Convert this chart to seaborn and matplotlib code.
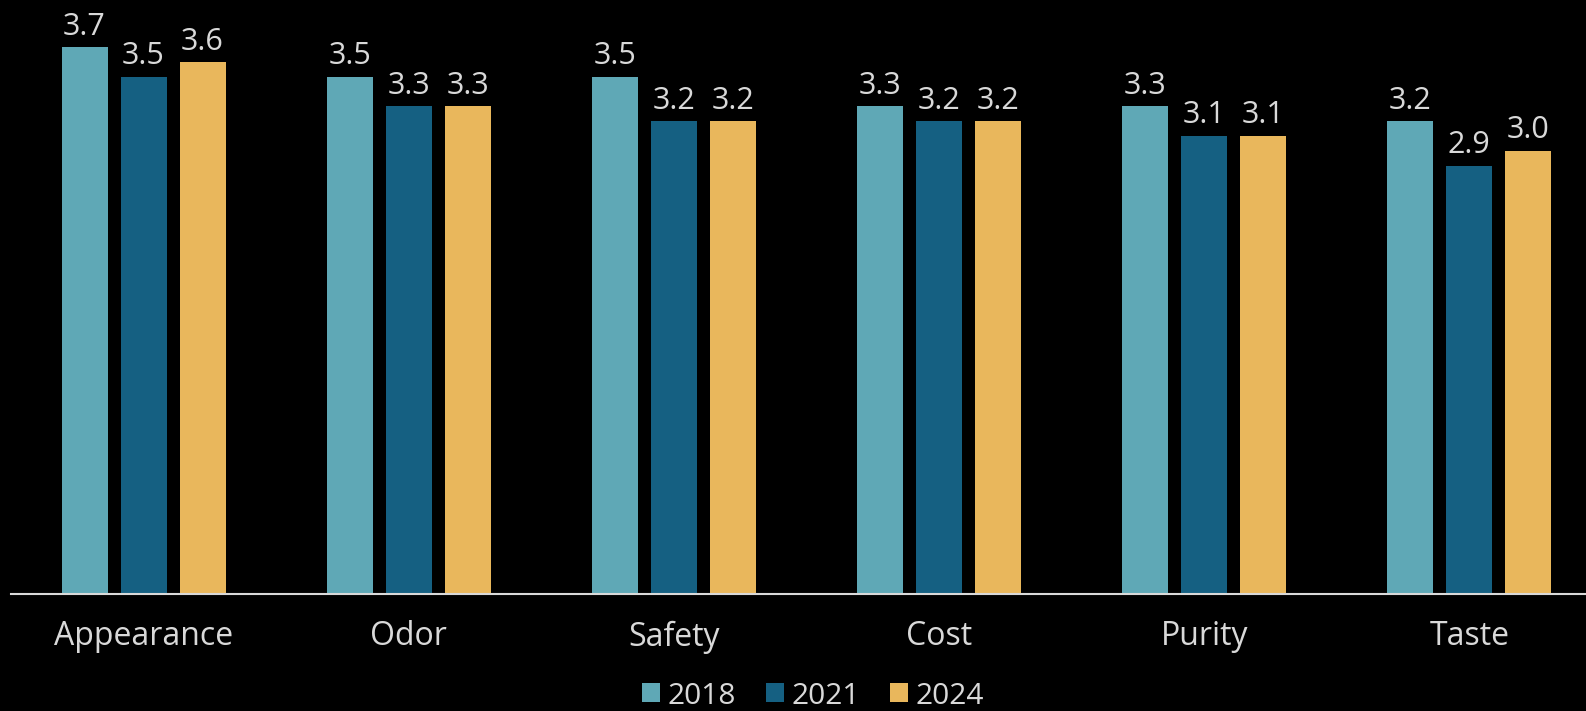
import matplotlib
matplotlib.use("Agg")
import matplotlib.pyplot as plt
import seaborn as sns
import pandas as pd

categories = ["Appearance", "Odor", "Safety", "Cost", "Purity", "Taste"]
years = ["2018", "2021", "2024"]
vals_2018 = [3.7, 3.5, 3.5, 3.3, 3.3, 3.2]
vals_2021 = [3.5, 3.3, 3.2, 3.2, 3.1, 2.9]
vals_2024 = [3.6, 3.3, 3.2, 3.2, 3.1, 3.0]
colors = ["#5FA8B6", "#156082", "#E9B75C"]

rows = []
for y, vals in zip(years, [vals_2018, vals_2021, vals_2024]):
    for c, v in zip(categories, vals):
        rows.append({"category": c, "year": y, "value": v})
df = pd.DataFrame(rows)

sns.set_style("dark")
plt.rcParams["font.family"] = ["Open Sans", "DejaVu Sans"]
txt = "#D9D9D9"
fs = 23

fig = plt.figure(figsize=(15.86, 7.11), dpi=100, facecolor="black")
ax = fig.add_axes([11 / 1586, (711 - 594) / 711, 1575 / 1586, 591 / 711])
ax.set_facecolor("black")

sns.barplot(data=df, x="category", y="value", hue="year", palette=colors,
            width=0.668, gap=0.22, ax=ax, errorbar=None, saturation=1,
            order=categories, hue_order=years, linewidth=0, edgecolor="none")

for cont in ax.containers:
    ax.bar_label(cont, fmt="%.1f", padding=4, color=txt, fontsize=22)

ax.set_ylim(0, 4)
ax.set_xlim(-0.5, 5.44)
ax.set_xlabel("")
ax.set_ylabel("")
ax.set_yticks([])
ax.grid(False)
for s in ["top", "left", "right"]:
    ax.spines[s].set_visible(False)
ax.spines["bottom"].set_color(txt)
ax.spines["bottom"].set_linewidth(1.5)
ax.tick_params(axis="x", length=0, pad=19, labelsize=fs, labelcolor=txt)

leg = ax.legend(loc="center", bbox_to_anchor=(813 / 1586, 15 / 711),
                bbox_transform=fig.transFigure, ncol=3, frameon=False,
                fontsize=21.5, handlelength=0.6, handleheight=0.6,
                handletextpad=0.25, columnspacing=1.0)
for t in leg.get_texts():
    t.set_color(txt)
for h in leg.legend_handles:
    h.set_edgecolor("none")

fig.savefig("out.png", dpi=100, facecolor="black")
